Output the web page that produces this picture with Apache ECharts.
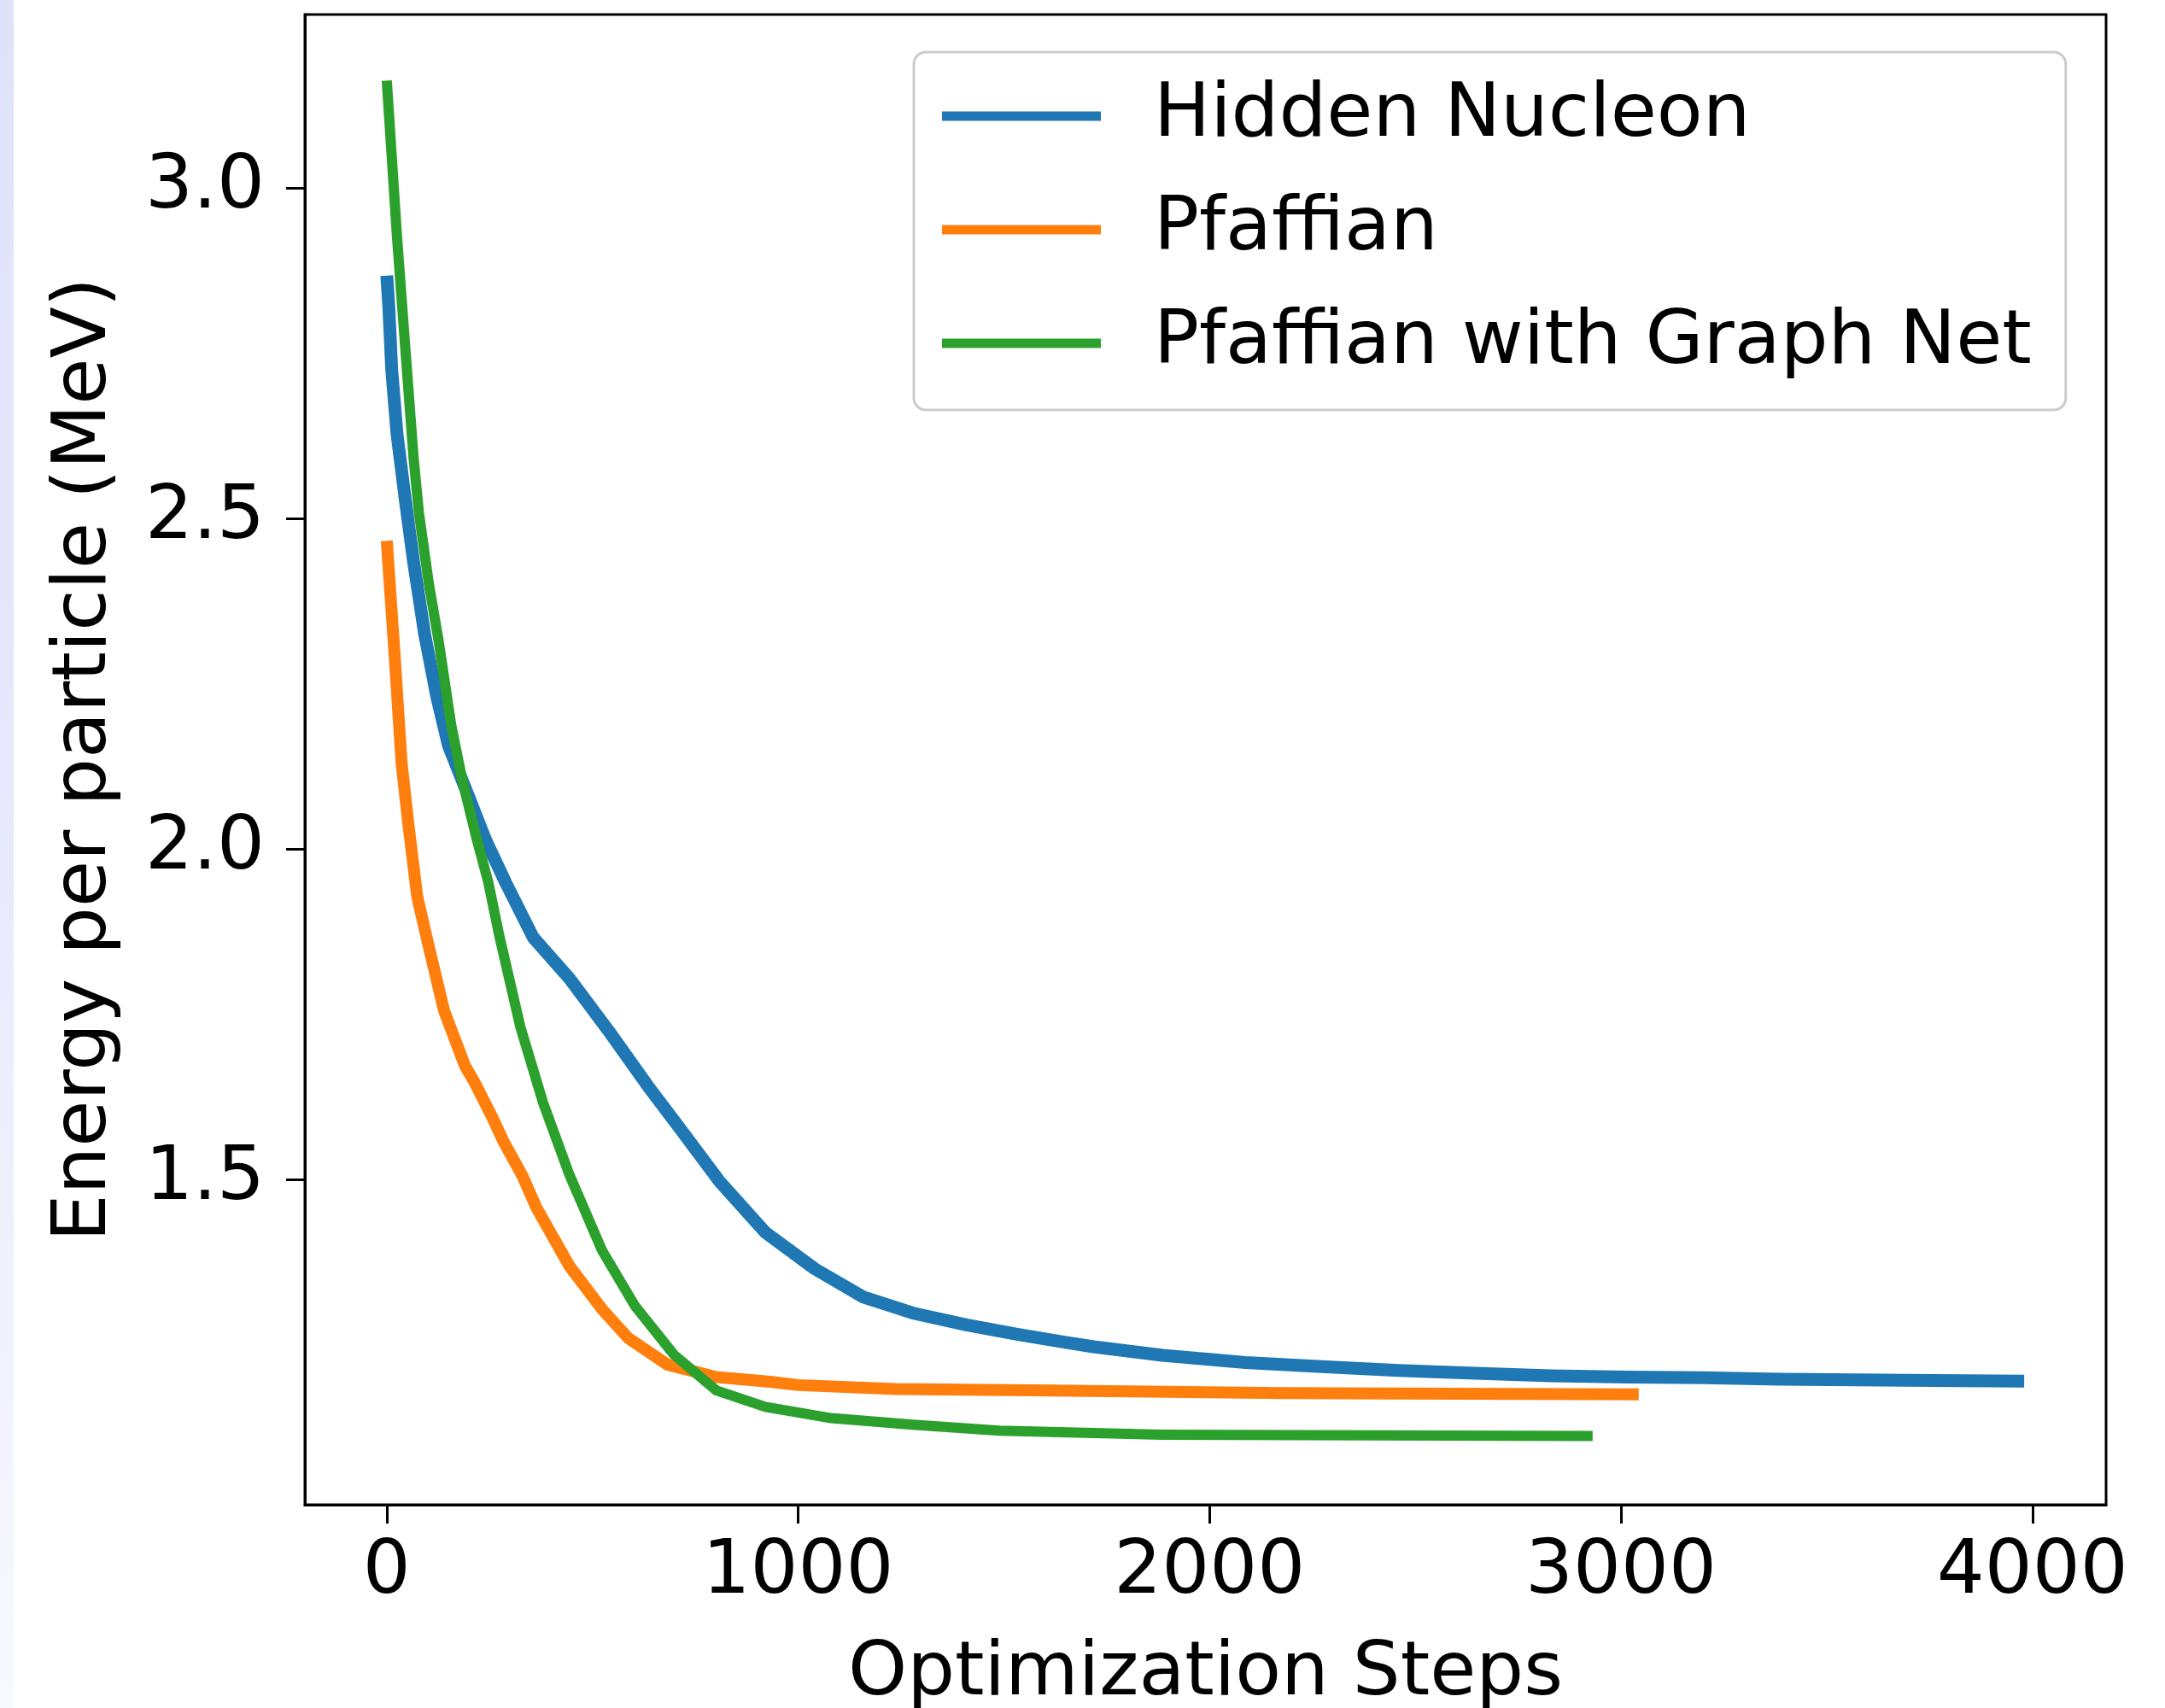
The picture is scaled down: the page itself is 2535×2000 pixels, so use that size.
<!DOCTYPE html>
<html>
<head>
<meta charset="utf-8">
<script src="https://cdn.jsdelivr.net/npm/echarts@6/dist/echarts.min.js"></script>
<style>
  html, body { margin: 0; padding: 0; background: #ffffff; overflow: hidden; }
  #chart { width: 2535px; height: 2000px; }
</style>
</head>
<body>
<div id="chart"></div>
<script>
// ---- Data ----
const seriesNames = ['Hidden Nucleon', 'Pfaffian', 'Pfaffian with Graph Net'];

const hiddenNucleonSteps  = [0, 5, 12, 25, 45, 65, 92, 122, 150, 199, 240, 289, 356, 444, 539, 635, 714, 809, 920, 1040, 1159, 1278, 1409, 1532, 1647, 1718, 1885, 2088, 2273, 2459, 2645, 2830, 3016, 3201, 3386, 3571, 3757, 3980];
const hiddenNucleonEnergy = [2.867, 2.820, 2.725, 2.627, 2.528, 2.435, 2.325, 2.229, 2.156, 2.079, 2.014, 1.949, 1.866, 1.804, 1.725, 1.641, 1.576, 1.497, 1.420, 1.365, 1.322, 1.298, 1.280, 1.266, 1.254, 1.247, 1.234, 1.223, 1.217, 1.211, 1.207, 1.203, 1.201, 1.200, 1.198, 1.197, 1.196, 1.195];

const pfaffianSteps  = [0, 19, 36, 53, 74, 98, 139, 190, 215, 258, 284, 330, 364, 444, 523, 587, 682, 801, 932, 1000, 1238, 1567, 2178, 2600, 3043];
const pfaffianEnergy = [2.466, 2.294, 2.130, 2.035, 1.928, 1.863, 1.756, 1.672, 1.645, 1.592, 1.557, 1.505, 1.457, 1.369, 1.304, 1.260, 1.220, 1.201, 1.194, 1.189, 1.183, 1.181, 1.177, 1.176, 1.175];

const graphNetSteps  = [0, 25, 45, 65, 78, 102, 126, 157, 185, 219, 247, 273, 325, 380, 444, 523, 603, 698, 801, 920, 1080, 1278, 1489, 1885, 2400, 2931];
const graphNetEnergy = [3.162, 2.925, 2.758, 2.593, 2.509, 2.402, 2.315, 2.186, 2.100, 2.014, 1.949, 1.870, 1.730, 1.616, 1.507, 1.393, 1.309, 1.235, 1.181, 1.156, 1.139, 1.129, 1.120, 1.114, 1.113, 1.112];

const xTickValues = [0, 1000, 2000, 3000, 4000];
const yTickValues = [1.5, 2.0, 2.5, 3.0];
const xAxisTitle = 'Optimization Steps';
const yAxisTitle = 'Energy per particle (MeV)';

// ---- Chart ----
const colors = ['#1f77b4', '#ff7f0e', '#2ca02c'];
const FONT = 'DejaVu Sans';
const FS = 88;

function pairs(xs, ys) { return xs.map((x, i) => [x, ys[i]]); }

const chart = echarts.init(document.getElementById('chart'), null, { renderer: 'canvas' });

const option = {
  animation: false,
  backgroundColor: '#ffffff',
  color: colors,
  graphic: [{
    type: 'rect',
    left: 0, top: 0,
    shape: { width: 16, height: 2000 },
    style: {
      fill: new echarts.graphic.LinearGradient(0, 0, 0, 1, [
        { offset: 0, color: '#dfe3fa' },
        { offset: 0.45, color: '#e6e8fc' },
        { offset: 1, color: '#f8f9ff' }
      ])
    },
    silent: true
  }],
  grid: {
    left: 357, top: 17, right: 69, bottom: 238,
    containLabel: false,
    outerBoundsMode: 'none',
    show: true, borderColor: '#000', borderWidth: 3, backgroundColor: '#fff'
  },
  legend: {
    orient: 'vertical',
    left: 1070, top: 61,
    padding: [23, 40, 26, 33],
    itemWidth: 186, itemHeight: 11, itemGap: 29,
    icon: 'rect',
    backgroundColor: '#ffffff',
    borderColor: '#cccccc', borderWidth: 3, borderRadius: 14,
    textStyle: { fontFamily: FONT, fontSize: FS, color: '#000', lineHeight: 104, padding: [0, 0, 0, 57] },
    data: seriesNames
  },
  xAxis: {
    type: 'value',
    min: -199, max: 4179,
    splitLine: { show: false },
    axisLine: { show: true, onZero: false, lineStyle: { color: '#000', width: 3 } },
    axisTick: { show: true, inside: false, length: 22, lineStyle: { color: '#000', width: 3 }, customValues: xTickValues },
    axisLabel: { fontFamily: FONT, fontSize: FS, color: '#000', margin: 36, customValues: xTickValues, formatter: v => String(v) },
    name: xAxisTitle, nameLocation: 'middle', nameGap: 155,
    nameTextStyle: { fontFamily: FONT, fontSize: FS, color: '#000' }
  },
  yAxis: {
    type: 'value',
    min: 1.008, max: 3.262,
    splitLine: { show: false },
    axisLine: { show: true, onZero: false, lineStyle: { color: '#000', width: 3 } },
    axisTick: { show: true, inside: false, length: 22, lineStyle: { color: '#000', width: 3 }, customValues: yTickValues },
    axisLabel: { fontFamily: FONT, fontSize: FS, color: '#000', margin: 47, customValues: yTickValues, formatter: v => v.toFixed(1) },
    name: yAxisTitle, nameLocation: 'middle', nameGap: 213, nameRotate: 90,
    nameTextStyle: { fontFamily: FONT, fontSize: FS, color: '#000' }
  },
  series: [
    { name: seriesNames[0], type: 'line', data: pairs(hiddenNucleonSteps, hiddenNucleonEnergy),
      showSymbol: false, smooth: false, lineStyle: { width: 15, color: colors[0], join: 'round' }, itemStyle: { color: colors[0] }, z: 2 },
    { name: seriesNames[1], type: 'line', data: pairs(pfaffianSteps, pfaffianEnergy),
      showSymbol: false, smooth: false, lineStyle: { width: 14, color: colors[1], join: 'round' }, itemStyle: { color: colors[1] }, z: 3 },
    { name: seriesNames[2], type: 'line', data: pairs(graphNetSteps, graphNetEnergy),
      showSymbol: false, smooth: false, lineStyle: { width: 12, color: colors[2], join: 'round' }, itemStyle: { color: colors[2] }, z: 4 }
  ]
};

chart.setOption(option);
</script>
</body>
</html>
